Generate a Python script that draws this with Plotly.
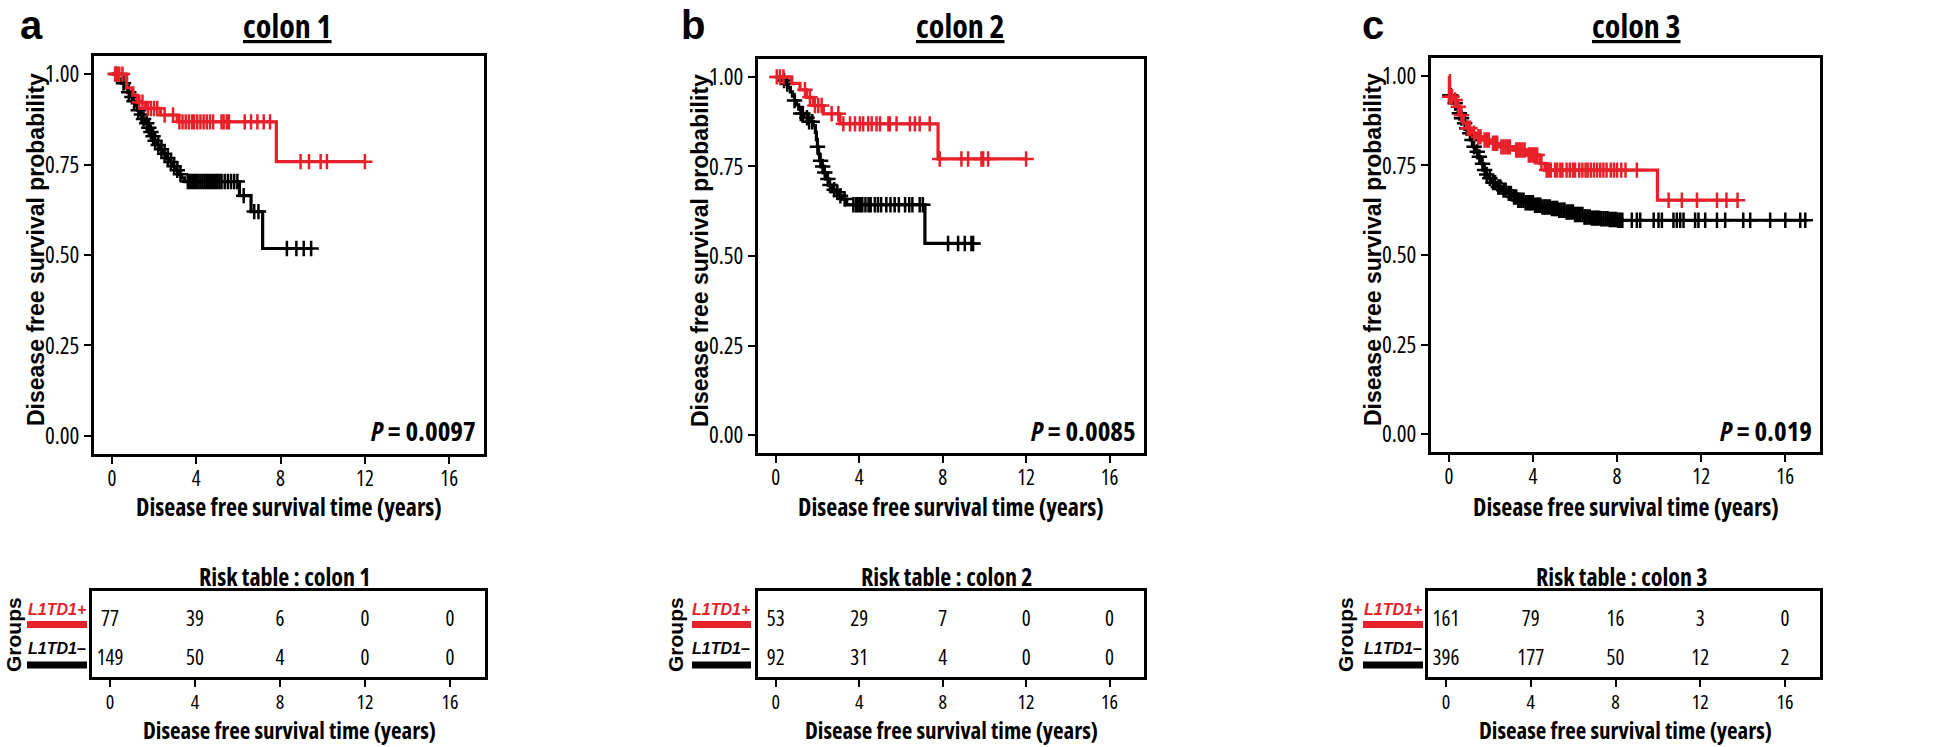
import plotly.graph_objects as go

W, H = 1946, 747
RED = "#E8202A"
BLK = "#000000"
FONT = "Liberation Sans, Arial, Helvetica, sans-serif"
FONT_C = "Open Sans, Liberation Sans, Arial, sans-serif"   # used with font-stretch: condensed

# ---------------- data ----------------
PANEL_LETTERS = ["a", "b", "c"]
PANEL_TITLES = ["colon 1", "colon 2", "colon 3"]
P_VALUES = ["0.0097", "0.0085", "0.019"]
GROUPS = ["L1TD1+", "L1TD1–"]
X_TICKS = [0, 4, 8, 12, 16]
X_TICK_LABELS = ["0", "4", "8", "12", "16"]
Y_TICKS = [0, 0.25, 0.5, 0.75, 1.0]
Y_TICK_LABELS = ["0.00", "0.25", "0.50", "0.75", "1.00"]

# colon 1
A_RED_T = [0, 0.70, 1.00, 1.20, 1.60, 2.30, 3.10, 7.80]
A_RED_S = [1.0, 0.962, 0.942, 0.922, 0.905, 0.887, 0.868, 0.758]
A_RED_END = 12.0
A_RED_CENS = [0.15, 0.25, 0.35, 0.5, 1.3, 1.45, 1.7, 1.85, 2.0, 2.15, 2.5, 2.9, 3.2, 3.35, 3.5,
              3.65, 3.8, 3.9, 4.05, 4.2, 4.35, 4.5, 4.65, 4.8, 5.2, 5.3, 5.45, 5.55, 6.3, 6.6,
              6.9, 7.2, 7.5, 8.95, 9.35, 9.9, 10.2, 12.0]
A_BLK_T = [0, 0.30, 0.45, 0.60, 0.75, 0.90, 1.00, 1.10, 1.20, 1.30, 1.45, 1.60, 1.70, 1.80,
           1.90, 2.00, 2.10, 2.25, 2.40, 2.55, 2.70, 2.85, 3.00, 3.15, 3.30, 3.45, 6.05, 6.60, 7.15]
A_BLK_S = [1.0, 0.987, 0.975, 0.962, 0.950, 0.937, 0.925, 0.912, 0.900, 0.888, 0.876, 0.864,
           0.852, 0.840, 0.828, 0.816, 0.804, 0.792, 0.780, 0.768, 0.757, 0.745, 0.734, 0.723,
           0.713, 0.703, 0.664, 0.620, 0.518]
A_BLK_END = 9.45
A_BLK_CENS = [0.2, 0.55, 0.8, 0.95, 1.05, 1.25, 1.4, 1.5, 1.65, 1.75, 1.85, 1.95, 2.05, 2.2,
              2.35, 2.5, 2.65, 2.8, 2.95, 3.1, 3.25, 3.6, 3.7, 3.8, 3.9, 4.0, 4.1, 4.2, 4.3, 4.4,
              4.5, 4.6, 4.7, 4.8, 4.9, 5.0, 5.1, 5.2, 5.35, 5.5, 5.65, 5.8, 5.95, 6.25, 6.75,
              6.95, 8.3, 8.75, 9.1, 9.45]

# colon 2
B_RED_T = [0, 0.77, 1.16, 1.48, 1.80, 2.28, 3.08, 7.78]
B_RED_S = [1.0, 0.982, 0.964, 0.943, 0.920, 0.897, 0.869, 0.771]
B_RED_END = 12.0
B_RED_CENS = [0.05, 0.2, 0.37, 1.4, 1.64, 1.88, 2.04, 2.2, 2.68, 3.0, 3.24, 3.56, 3.8, 4.03,
              4.19, 4.43, 4.6, 4.83, 5.0, 5.4, 5.47, 5.79, 6.43, 6.67, 6.9, 7.38, 7.86, 8.9,
              9.22, 9.86, 9.94, 10.18, 12.0]
B_BLK_T = [0, 0.25, 0.45, 0.60, 0.70, 0.80, 0.90, 1.00, 1.10, 1.20, 1.35, 1.60, 1.80, 1.90,
           1.95, 2.00, 2.05, 2.10, 2.18, 2.28, 2.40, 2.52, 2.70, 2.84, 3.00, 3.16, 3.40, 7.15]
B_BLK_S = [1.0, 0.990, 0.980, 0.970, 0.958, 0.946, 0.934, 0.922, 0.910, 0.898, 0.886, 0.875,
           0.864, 0.845, 0.825, 0.805, 0.785, 0.766, 0.750, 0.733, 0.715, 0.698, 0.685, 0.678,
           0.668, 0.659, 0.643, 0.535]
B_BLK_END = 9.46
B_BLK_CENS = [0.4, 0.55, 0.9, 1.2, 1.3, 1.5, 1.6, 1.75, 2.0, 2.15, 2.25, 2.35, 2.5, 2.6, 2.8,
              2.95, 3.1, 3.3, 3.72, 3.85, 3.95, 4.05, 4.15, 4.3, 4.45, 4.55, 4.75, 4.9, 5.05,
              5.3, 5.5, 5.7, 5.9, 6.2, 6.4, 6.55, 6.9, 7.05, 8.26, 8.74, 9.06, 9.38, 9.46]

# colon 3
C_RED_T = [0, 0.03, 0.21, 0.37, 0.52, 0.68, 0.84, 1.08, 1.32, 1.63, 2.03, 2.43, 3.06, 3.70,
           4.33, 4.57, 9.92]
C_RED_S = [1.0, 0.942, 0.933, 0.914, 0.890, 0.868, 0.854, 0.840, 0.830, 0.821, 0.812, 0.802,
           0.793, 0.779, 0.756, 0.737, 0.653]
C_RED_END = 13.73
C_RED_CENS = [0.04, 0.15, 0.3, 0.45, 0.6, 0.9, 1.0, 1.2, 1.4, 1.5, 1.7, 1.8, 1.9, 2.1, 2.2,
              2.3, 2.5, 2.6, 2.7, 2.8, 2.9, 3.2, 3.3, 3.4, 3.5, 3.6, 3.8, 3.9, 4.0, 4.1, 4.2,
              4.4, 4.65, 4.75, 4.85, 5.05, 5.15, 5.3, 5.4, 5.6, 5.75, 5.9, 6.0, 6.2, 6.35, 6.5,
              6.6, 6.75, 6.9, 7.05, 7.2, 7.35, 7.5, 7.7, 7.85, 8.0, 8.2, 8.4, 8.94, 10.45,
              11.08, 11.8, 12.75, 13.2, 13.73]
C_BLK_T = [0, 0.03, 0.21, 0.33, 0.44, 0.56, 0.68, 0.80, 0.92, 1.04, 1.16, 1.28, 1.40, 1.52,
           1.63, 1.75, 1.87, 2.05, 2.27, 2.50, 2.75, 3.00, 3.22, 3.60, 4.02, 4.40, 4.81, 5.20,
           5.60, 6.00, 6.40, 6.80, 7.19, 7.60, 7.98]
C_BLK_S = [1.0, 0.945, 0.924, 0.910, 0.896, 0.882, 0.868, 0.854, 0.840, 0.821, 0.802, 0.788,
           0.774, 0.755, 0.737, 0.725, 0.714, 0.702, 0.690, 0.681, 0.672, 0.662, 0.653, 0.646,
           0.639, 0.634, 0.630, 0.625, 0.620, 0.613, 0.606, 0.603, 0.601, 0.599, 0.597]
C_BLK_END = 16.95
C_BLK_CENS = [0.04, 0.1, 0.3, 0.5, 0.6, 0.75, 0.85, 1.0, 1.1, 1.2, 1.35, 1.45, 1.6, 1.7, 1.8,
              1.95, 2.1, 2.2, 2.35, 2.45, 2.6, 2.7, 2.85, 2.95, 3.1, 3.2, 3.3, 3.35, 3.45, 3.55,
              3.65, 3.75, 3.85, 3.9, 4.0, 4.1, 4.2, 4.25, 4.35, 4.45, 4.55, 4.6, 4.7, 4.8, 4.9,
              5.0, 5.1, 5.15, 5.25, 5.35, 5.45, 5.5, 5.6, 5.7, 5.8, 5.9, 6.0, 6.05, 6.15, 6.25,
              6.35, 6.45, 6.5, 6.6, 6.7, 6.8, 6.9, 7.0, 7.05, 7.15, 7.25, 7.35, 7.45, 7.55,
              7.65, 7.75, 7.85, 7.95, 8.05, 8.15, 8.25, 8.7, 8.94, 9.1, 9.74, 9.97, 10.13,
              10.68, 10.84, 11.0, 11.16, 11.71, 11.87, 12.19, 12.75, 13.14, 14.0, 14.33, 15.28,
              16.0, 16.71, 16.95]

# number at risk at X_TICKS
A_RISK_RED = [77, 39, 6, 0, 0]
A_RISK_BLK = [149, 50, 4, 0, 0]
B_RISK_RED = [53, 29, 7, 0, 0]
B_RISK_BLK = [92, 31, 4, 0, 0]
C_RISK_RED = [161, 79, 16, 3, 0]
C_RISK_BLK = [396, 177, 50, 12, 2]

CURVES = [
    dict(red=(A_RED_T, A_RED_S, A_RED_END, A_RED_CENS), blk=(A_BLK_T, A_BLK_S, A_BLK_END, A_BLK_CENS),
         risk=(A_RISK_RED, A_RISK_BLK)),
    dict(red=(B_RED_T, B_RED_S, B_RED_END, B_RED_CENS), blk=(B_BLK_T, B_BLK_S, B_BLK_END, B_BLK_CENS),
         risk=(B_RISK_RED, B_RISK_BLK)),
    dict(red=(C_RED_T, C_RED_S, C_RED_END, C_RED_CENS), blk=(C_BLK_T, C_BLK_S, C_BLK_END, C_BLK_CENS),
         risk=(C_RISK_RED, C_RISK_BLK)),
]

# ---------------- layout geometry (pixels) ----------------
GEOM = [
    dict(box=(94, 484, 56, 454), risk=(92, 485, 591, 677), letter=31, title=287, leg=(27, 87), groups=13),
    dict(box=(758, 1144, 59, 453), risk=(758, 1144, 591, 677), letter=693, title=960, leg=(692, 751), groups=675),
    dict(box=(1431, 1820, 58, 452), risk=(1428, 1820, 591, 677), letter=1373, title=1636, leg=(1363, 1423), groups=1345),
]


def fx(px):
    return px / W


def fy(py):
    return 1 - py / H


def cond(s):
    return f'<span style="font-stretch:75%">{s}</span>'


def surv_at(times, surv, t):
    v = surv[0]
    for ti, si in zip(times, surv):
        if ti <= t:
            v = si
    return v


fig = go.Figure()
layout = dict(width=W, height=H, margin=dict(l=0, r=0, t=0, b=0), paper_bgcolor="white",
              plot_bgcolor="white", showlegend=False, annotations=[], shapes=[],
              font=dict(family=FONT_C, color="black"))

axis_common = dict(showline=True, mirror=True, linewidth=3, linecolor="black", ticks="outside",
                   ticklen=7, tickwidth=2, tickcolor="black", showgrid=False, zeroline=False)

for i, (cv, g) in enumerate(zip(CURVES, GEOM)):
    mx = "x" if i == 0 else f"x{i + 1}"
    my = "y" if i == 0 else f"y{i + 1}"
    rx = f"x{i + 4}"
    ry = f"y{i + 4}"
    x0, x1, y0, y1 = g["box"]
    layout["xaxis" if i == 0 else f"xaxis{i + 1}"] = dict(
        axis_common, domain=[fx(x0), fx(x1)], range=[-0.85, 17.65], anchor=my,
        tickvals=X_TICKS, ticktext=[cond(v) for v in X_TICK_LABELS], ticklabelstandoff=-3,
        tickfont=dict(family=FONT_C, size=21, color="black"))
    layout["yaxis" if i == 0 else f"yaxis{i + 1}"] = dict(
        axis_common, domain=[fy(y1), fy(y0)], range=[-0.05, 1.05], anchor=mx,
        tickvals=Y_TICKS, ticktext=[cond(v) for v in Y_TICK_LABELS],
        tickfont=dict(family=FONT_C, size=23, color="black"))
    rx0, rx1, ry0, ry1 = g["risk"]
    layout[f"xaxis{i + 4}"] = dict(
        axis_common, domain=[fx(rx0), fx(rx1)], range=[-0.85, 17.65], anchor=ry,
        tickvals=X_TICKS, ticktext=[cond(v) for v in X_TICK_LABELS], ticklabelstandoff=-2,
        tickfont=dict(family=FONT_C, size=20, color="black"))
    layout[f"yaxis{i + 4}"] = dict(
        showline=True, mirror=True, linewidth=3, linecolor="black", ticks="", showticklabels=False,
        showgrid=False, zeroline=False, domain=[fy(ry1), fy(ry0)], range=[0.55, 2.76], anchor=rx)

    for key, col in (("blk", BLK), ("red", RED)):
        t, s, end, cens = cv[key]
        fig.add_trace(go.Scatter(x=list(t) + [end], y=list(s) + [s[-1]], mode="lines",
                                 line=dict(color=col, width=3.2, shape="hv"), xaxis=mx, yaxis=my,
                                 hoverinfo="skip"))
        fig.add_trace(go.Scatter(x=cens, y=[surv_at(t, s, c) for c in cens], mode="markers",
                                 marker=dict(symbol="cross-thin", size=11, color=col,
                                             line=dict(color=col, width=2.5)),
                                 xaxis=mx, yaxis=my, hoverinfo="skip"))

    rr, rb = cv["risk"]
    for row, vals in ((2, rr), (1, rb)):
        fig.add_trace(go.Scatter(x=X_TICKS, y=[row] * len(vals), text=[cond(str(v)) for v in vals],
                                 mode="text", textfont=dict(family=FONT_C, size=21, color="black"),
                                 textposition="middle center", xaxis=rx, yaxis=ry, hoverinfo="skip"))

    ann = layout["annotations"]
    cx = (x0 + x1) / 2
    ann.append(dict(text=f"<b>{PANEL_LETTERS[i]}</b>", x=fx(g["letter"]), y=fy(1), xref="paper",
                    yref="paper", showarrow=False, xanchor="center", yanchor="top",
                    font=dict(family=FONT, size=40, color="black")))
    ann.append(dict(text=cond(f"<b><u>{PANEL_TITLES[i]}</u></b>"), x=fx(g["title"]), y=fy(26),
                    xref="paper", yref="paper", showarrow=False, xanchor="center", yanchor="middle",
                    font=dict(family=FONT_C, size=32, color="black")))
    ann.append(dict(text=cond("<b>Disease free survival time (years)</b>"), x=fx(cx), y=fy(506),
                    xref="paper", yref="paper", showarrow=False, xanchor="center", yanchor="middle",
                    font=dict(family=FONT_C, size=24, color="black")))
    ann.append(dict(text="<b>Disease free survival probability</b>", x=fx(x0 - 58),
                    y=fy((y0 + y1) / 2 - 5), xref="paper", yref="paper", showarrow=False,
                    xanchor="center", yanchor="middle", textangle=-90,
                    font=dict(family=FONT, size=23, color="black")))
    ann.append(dict(text=cond(f"<b><i>P</i> = {P_VALUES[i]}</b>"), x=fx(x1 - 6), y=fy(430),
                    xref="paper", yref="paper", showarrow=False, xanchor="right", yanchor="middle",
                    font=dict(family=FONT_C, size=27, color="black")))
    ann.append(dict(text=cond(f"<b>Risk table : {PANEL_TITLES[i]}</b>"), x=fx(cx - 4), y=fy(576),
                    xref="paper", yref="paper", showarrow=False, xanchor="center", yanchor="middle",
                    font=dict(family=FONT_C, size=24, color="black")))
    ann.append(dict(text=cond("<b>Disease free survival time (years)</b>"), x=fx(cx), y=fy(730),
                    xref="paper", yref="paper", showarrow=False, xanchor="center", yanchor="middle",
                    font=dict(family=FONT_C, size=23, color="black")))
    ann.append(dict(text="<b>Groups</b>", x=fx(g["groups"]), y=fy(635), xref="paper", yref="paper",
                    showarrow=False, xanchor="center", yanchor="middle", textangle=-90,
                    font=dict(family=FONT, size=21, color="black")))
    lx0, lx1 = g["leg"]
    for gname, col, ty, by in ((GROUPS[0], RED, 609, 624.5), (GROUPS[1], BLK, 648, 665)):
        ann.append(dict(text=f"<b><i>{gname}</i></b>", x=fx(lx1 + 1), y=fy(ty), xref="paper",
                        yref="paper", showarrow=False, xanchor="right", yanchor="middle",
                        font=dict(family=FONT, size=16, color=col)))
        layout["shapes"].append(dict(type="rect", xref="paper", yref="paper", x0=fx(lx0), x1=fx(lx1),
                                     y0=fy(by + 3.5), y1=fy(by - 3.5), fillcolor=col,
                                     line=dict(width=0)))

fig.update_layout(**layout)
fig.write_html("out.html", config={"displayModeBar": False},
               post_script="document.body.style.margin='0';document.body.style.overflow='hidden';")
